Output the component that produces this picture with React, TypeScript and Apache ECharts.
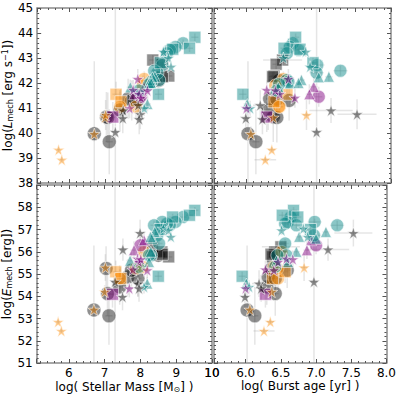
import React, { useEffect, useRef } from "react";
import * as echarts from "echarts";

// Each object: [logMass, logAge, logLmech, logEmech, errMass, errAge, errLog]
const tealCircles = [
  [9.19, 6.64, 43.59, 57.56, 0.1, 0.05, 0.15],
  [8.98, 6.6, 43.44, 57.34, 0.1, 0.05, 0.15],
  [8.82, 6.72, 43.32, 57.19, 0.1, 0.05, 0.15],
  [8.74, 6.56, 43.19, 57.26, 0.1, 0.05, 0.15],
  [8.61, 6.98, 42.72, 57.34, 0.1, 0.1, 0.15],
  [8.47, 6.97, 42.41, 56.74, 0.1, 0.1, 0.2],
  [8.38, 7.3, 42.49, 57.19, 0.1, 0.1, 0.2],
  [8.52, 6.56, 42.12, 56.37, 0.1, 0.05, 0.2],
  [8.3, 6.58, 42.05, 55.84, 0.1, 0.05, 0.2],
  [8.24, 6.45, 41.95, 55.84, 0.1, 0.05, 0.2],
  [7.96, 6.42, 41.7, 55.32, 0.1, 0.05, 0.3],
];
const tealSquares = [
  [9.52, 6.68, 43.83, 57.86, 0.1, 0.05, 0.15],
  [9.37, 6.52, 43.39, 57.64, 0.1, 0.05, 0.15],
  [8.9, 6.74, 43.35, 57.56, 0.1, 0.05, 0.15],
  [8.55, 6.92, 42.81, 57.0, 0.1, 0.05, 0.2],
  [8.5, 5.95, 41.55, 54.9, 0.1, 0.05, 0.2],
];
const tealTriangles = [
  [8.4, 7.14, 42.25, 56.89, 0.1, 0.05, 0.2],
  [8.33, 7.0, 42.23, 56.59, 0.1, 0.05, 0.2],
  [8.28, 6.76, 42.12, 56.67, 0.1, 0.05, 0.2],
  [8.24, 6.6, 41.99, 55.54, 0.1, 0.05, 0.2],
  [8.29, 6.72, 42.0, 56.0, 0.1, 0.05, 0.2],
  [7.71, 6.44, 41.83, 55.6, 0.1, 0.05, 0.3],
  [8.19, 6.01, 41.16, 54.57, 0.1, 0.05, 0.3],
];
const tealStars = [
  [8.64, 6.82, 43.25, 57.04, 0.1, 0.05, 0.2],
  [8.78, 6.51, 43.0, 56.96, 0.1, 0.05, 0.2],
  [8.85, 6.88, 42.65, 56.67, 0.1, 0.05, 0.2],
  [8.1, 6.05, 40.99, 54.42, 0.1, 0.05, 0.3],
];
const greySquares = [
  [8.34, 6.5, 42.92, 56.22, 0.1, 0.27, 0.2],
  [8.6, 6.41, 42.75, 55.99, 0.1, 0.05, 0.2],
  [8.79, 6.38, 42.28, 55.77, 0.1, 0.05, 0.2],
  [8.61, 6.36, 42.25, 55.89, 0.1, 0.05, 0.2],
];
const greyCircles = [
  [6.7, 6.02, 39.97, 53.38, 0.1, 0.05, 2.9],
  [7.12, 6.13, 39.65, 53.12, 0.1, 0.05, 1.3],
  [7.04, 6.37, 40.64, 55.25, 0.1, 0.05, 1.0],
  [7.08, 6.42, 40.62, 54.12, 0.1, 0.05, 1.0],
  [7.42, 6.3, 40.92, 54.42, 0.1, 0.05, 0.8],
  [7.65, 6.32, 41.37, 54.87, 0.1, 0.05, 0.8],
  [7.93, 6.42, 41.35, 54.8, 0.1, 0.05, 0.8],
  [7.75, 6.59, 41.3, 55.17, 0.1, 0.05, 0.8],
  [8.5, 6.45, 42.1, 55.84, 0.1, 0.05, 0.3],
];
const greyStars = [
  [7.29, 6.97, 40.04, 54.65, 0.1, 0.05, 5.0],
  [7.51, 7.17, 40.9, 56.1, 0.1, 0.3, 0.5],
  [7.99, 7.53, 40.75, 56.84, 0.1, 0.27, 0.6],
  [7.5, 5.99, 40.59, 53.97, 0.1, 0.05, 0.6],
  [7.93, 6.19, 41.11, 54.57, 0.1, 0.1, 0.6],
  [7.96, 6.22, 40.55, 54.35, 0.1, 0.05, 0.6],
];
const purpleSquares = [[7.22, 6.28, 40.64, 54.09, 0.1, 0.05, 0.6]];
const purpleCircles = [[8.0, 7.0, 41.45, 56.29, 0.1, 0.05, 0.4]];
const purpleTriangles = [
  [8.1, 6.93, 41.85, 56.52, 0.1, 0.05, 0.4],
  [7.82, 6.87, 41.55, 56.07, 0.1, 0.05, 0.4],
];
const purpleStars = [
  [7.92, 6.58, 42.16, 55.69, 0.1, 0.05, 0.4],
  [7.79, 6.28, 41.72, 55.2, 0.1, 0.05, 0.4],
  [7.96, 6.46, 41.56, 55.54, 0.1, 0.05, 0.4],
  [8.01, 6.67, 41.41, 55.66, 0.1, 0.05, 0.4],
  [7.69, 6.0, 40.99, 54.35, 0.1, 0.05, 0.4],
  [8.19, 6.4, 41.7, 55.17, 0.1, 0.05, 0.4],
];
const orangeStars = [
  [5.7, 6.35, 39.33, 52.85, 0.05, 0.05, 0.1],
  [5.79, 6.26, 38.93, 52.44, 0.05, 0.15, 0.1],
  [6.7, 6.06, 39.96, 53.4, 0.1, 0.05, 0.3],
  [7.0, 6.37, 40.62, 54.2, 0.1, 0.05, 0.3],
  [7.02, 6.83, 40.72, 55.29, 0.1, 0.05, 0.6],
];
const orangeSquares = [
  [7.31, 6.56, 41.55, 55.1, 0.1, 0.05, 0.5],
  [7.45, 6.38, 41.25, 54.8, 0.1, 0.05, 0.5],
];
const orangeCircles = [
  [7.42, 6.46, 41.05, 54.8, 0.1, 0.05, 0.6],
  [8.1, 6.51, 42.16, 55.99, 0.1, 0.05, 0.3],
  [7.87, 6.45, 41.05, 55.25, 0.1, 0.05, 0.5],
  [8.06, 6.4, 41.9, 55.32, 0.1, 0.05, 0.4],
];

const yTicksTop = [38, 45];
const yTicksBottom = [51, 59];
const massRange = [5.1, 10];
const ageRange = [5.55, 8.0];
const massTickLabels = [6, 7, 8, 9, 10];
const ageTickLabels = [6.0, 6.5, 7.0, 7.5, 8.0];

const STAR =
  "path://M50 0 L61.2 34.5 L97.6 34.5 L68.2 55.9 L79.4 90.5 L50 69.1 L20.6 90.5 L31.8 55.9 L2.4 34.5 L38.8 34.5 Z";
const GREY = "rgba(0,0,0,0.55)";
const ORANGE = "rgba(255,140,0,0.55)";
const PURPLE = "rgba(128,0,128,0.6)";
const TEAL = "rgba(10,135,135,0.6)";

const groups = [
  { data: greyCircles, color: GREY, symbol: "circle", size: 14 },
  { data: greySquares, color: GREY, symbol: "rect", size: 12 },
  { data: orangeCircles, color: ORANGE, symbol: "circle", size: 13 },
  { data: orangeSquares, color: ORANGE, symbol: "rect", size: 12 },
  { data: purpleSquares, color: PURPLE, symbol: "rect", size: 12 },
  { data: purpleCircles, color: PURPLE, symbol: "circle", size: 13 },
  { data: purpleTriangles, color: PURPLE, symbol: "triangle", size: 11 },
  { data: tealCircles, color: TEAL, symbol: "circle", size: 13 },
  { data: tealSquares, color: TEAL, symbol: "rect", size: 12 },
  { data: tealTriangles, color: TEAL, symbol: "triangle", size: 11 },
  { data: tealStars, color: TEAL, symbol: STAR, size: 12 },
  { data: purpleStars, color: PURPLE, symbol: STAR, size: 12 },
  { data: greyStars, color: GREY, symbol: STAR, size: 12 },
  { data: orangeStars, color: ORANGE, symbol: STAR, size: 12 },
];

const FONT = "DejaVu Sans";

export default function App() {
  const ref = useRef<HTMLDivElement>(null);
  useEffect(() => {
    if (!ref.current) return;
    const chart = echarts.init(ref.current, null, { renderer: "svg" });

    const grids = [
      { left: 36, top: 8, width: 176, height: 175 },
      { left: 214, top: 8, width: 177, height: 175 },
      { left: 36, top: 185, width: 176, height: 178 },
      { left: 214, top: 185, width: 177, height: 178 },
    ];
    const panels = [
      { xi: 0, yi: 2 },
      { xi: 1, yi: 2 },
      { xi: 0, yi: 3 },
      { xi: 1, yi: 3 },
    ];

    const lineStyle = { color: "#8a8a8a", width: 1.5 };
    const tick = { show: true, inside: true, length: 4, lineStyle: { color: "#555", width: 1 } };
    const minorTick = { show: true, splitNumber: 5, length: 2, lineStyle: { color: "#555", width: 1 } };
    const labelStyle = { color: "#000", fontSize: 12, fontFamily: FONT };
    const nameRich = {
      i: { fontStyle: "italic", fontSize: 12, fontFamily: FONT, color: "#000" },
      sub: { fontSize: 8, fontFamily: FONT, color: "#000", verticalAlign: "bottom", padding: [5, 0, 0, 0] },
      sup: { fontSize: 8, fontFamily: FONT, color: "#000", verticalAlign: "top", padding: [0, 0, 5, 0] },
    };

    const xAxes: any[] = [];
    const yAxes: any[] = [];
    for (let m = 0; m < 2; m++) {
      for (let g = 0; g < 4; g++) {
        const isMass = g % 2 === 0;
        const isBottomRow = g >= 2;
        const r = isMass ? massRange : ageRange;
        const base: any = {
          type: "value",
          gridIndex: g,
          min: r[0],
          max: r[1],
          splitNumber: 5,
          position: m === 0 ? "bottom" : "top",
          axisLine: { show: true, onZero: false, lineStyle },
          axisTick: tick,
          minorTick,
          splitLine: { show: false },
          axisLabel: {
            show: m === 0 && isBottomRow,
            customValues: isMass ? massTickLabels : ageTickLabels,
            hideOverlap: false,
            margin: 4,
            ...labelStyle,
            formatter: (v: number) => (isMass ? String(v) : v.toFixed(1)),
          },
        };
        if (m === 0 && isBottomRow) {
          base.name = isMass
            ? "log( Stellar Mass [M{sub|⊙}] )"
            : "log( Burst age [yr] )";
          base.nameLocation = "middle";
          base.nameGap = 17;
          base.nameTextStyle = { ...labelStyle, rich: nameRich };
        }
        xAxes.push(base);

        const yr = isBottomRow ? yTicksBottom : yTicksTop;
        const yb: any = {
          type: "value",
          gridIndex: g,
          min: yr[0],
          max: yr[1],
          interval: 1,
          position: m === 0 ? "left" : "right",
          axisLine: { show: true, onZero: false, lineStyle },
          axisTick: tick,
          minorTick,
          splitLine: { show: false },
          axisLabel: {
            show: m === 0 && isMass,
            showMaxLabel: !isBottomRow,
            margin: 4,
            ...labelStyle,
          },
        };
        if (m === 0 && isMass) {
          yb.name = isBottomRow
            ? "log({i|E}{sub|mech} [erg])"
            : "log({i|L}{sub|mech} [erg s{sup|−1}])";
          yb.nameLocation = "middle";
          yb.nameGap = 22;
          yb.nameRotate = 90;
          yb.nameTextStyle = { ...labelStyle, rich: nameRich };
        }
        yAxes.push(yb);
      }
    }

    const series: any[] = [];
    panels.forEach((p, g) => {
      const all = groups.flatMap((gr) => gr.data);
      series.push({
        type: "custom",
        xAxisIndex: g,
        yAxisIndex: g,
        clip: true,
        silent: true,
        z: 1,
        data: all.map((o) => [o[p.xi], o[p.yi], p.xi === 0 ? o[4] : o[5], o[6]]),
        renderItem: (params: any, api: any) => {
          const x = api.value(0), y = api.value(1), xe = api.value(2), ye = api.value(3);
          const a = api.coord([x - xe, y]);
          const b = api.coord([x + xe, y]);
          const c = api.coord([x, y - ye]);
          const d = api.coord([x, y + ye]);
          const style = { stroke: "rgba(170,170,170,0.3)", lineWidth: 1.5 };
          return {
            type: "group",
            children: [
              { type: "line", shape: { x1: a[0], y1: a[1], x2: b[0], y2: b[1] }, style },
              { type: "line", shape: { x1: c[0], y1: c[1], x2: d[0], y2: d[1] }, style },
            ],
          };
        },
      });
      groups.forEach((gr, k) => {
        series.push({
          type: "scatter",
          xAxisIndex: g,
          yAxisIndex: g,
          symbol: gr.symbol,
          symbolSize: gr.size,
          z: 2 + k,
          data: gr.data.map((o) => [o[p.xi], o[p.yi]]),
          itemStyle: { color: gr.color, borderColor: "rgba(255,255,255,0.7)", borderWidth: 1 },
        });
      });
    });

    chart.setOption({
      animation: false,
      backgroundColor: "#fff",
      grid: grids,
      xAxis: xAxes,
      yAxis: yAxes,
      series,
    });

    // The last mass tick label (10) is dropped by the axis layout next to the
    // neighbouring panel, so place it at the axis's own pixel for that value.
    const lastMass = massTickLabels[massTickLabels.length - 1];
    const pt = chart.convertToPixel({ xAxisIndex: 2, yAxisIndex: 2 }, [lastMass, yTicksBottom[0]]) as number[];
    if (pt) {
      chart.setOption({
        graphic: [
          {
            type: "text",
            x: pt[0],
            y: pt[1] + 4,
            z: 100,
            style: {
              text: String(lastMass),
              align: "center",
              verticalAlign: "top",
              fill: "#000",
              fontSize: 12,
              fontFamily: FONT,
            },
          },
        ],
      });
    }
    return () => chart.dispose();
  }, []);

  return <div ref={ref} style={{ width: 399, height: 399, position: "absolute", left: 0, top: 0 }} />;
}
